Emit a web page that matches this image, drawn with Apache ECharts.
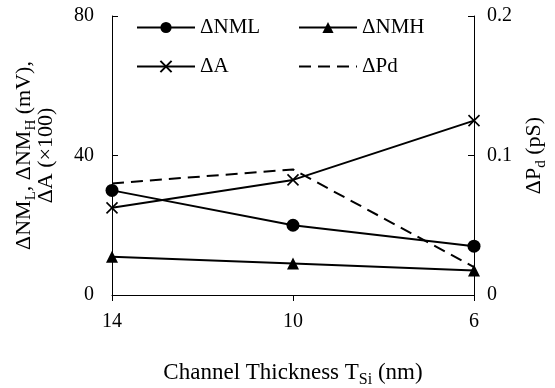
<!DOCTYPE html>
<html>
<head>
<meta charset="utf-8">
<script src="https://cdn.jsdelivr.net/npm/echarts@6/dist/echarts.min.js"></script>
<style>
html, body { margin: 0; padding: 0; background: #fff; }
#chart { width: 555px; height: 388px; }
</style>
</head>
<body>
<div id="chart"></div>
<script>
// channel thickness (nm)
var thickness = ['14', '10', '6'];
var dNML = [30, 20, 14];
var dNMH = [11, 9, 7];
var dA = [25, 33, 50];      // x100
var dPd = [0.08, 0.09, 0.02]; // pS, right axis

var font = '"Liberation Serif", "Times New Roman", serif';
var rich = {
    b: { fontFamily: font, fontSize: 22, color: '#000', lineHeight: 22, verticalAlign: 'bottom' },
    s: { fontFamily: font, fontSize: 15, color: '#000', lineHeight: 16, verticalAlign: 'bottom', padding: [0, 0, -4, 0] }
};
var richX = {
    b: { fontFamily: font, fontSize: 23, color: '#000', lineHeight: 26, verticalAlign: 'bottom' },
    s: { fontFamily: font, fontSize: 16, color: '#000', lineHeight: 18, verticalAlign: 'bottom', padding: [0, 0, -4, 0] }
};

var chart = echarts.init(document.getElementById('chart'));
var option = {
    animation: false,
    textStyle: { fontFamily: font, color: '#000' },
    grid: { left: 112, right: 81, top: 16, bottom: 93, outerBoundsMode: 'none', containLabel: false },
    legend: [
        {
            orient: 'vertical', left: 131, top: 12,
            itemWidth: 58, itemHeight: 14, itemGap: 18,
            textStyle: { fontFamily: font, fontSize: 21, color: '#000' },
            data: ['ΔNML', 'ΔA']
        },
        {
            orient: 'vertical', left: 293, top: 12,
            itemWidth: 58, itemHeight: 14, itemGap: 18,
            textStyle: { fontFamily: font, fontSize: 21, color: '#000' },
            data: ['ΔNMH', { name: 'ΔPd', itemStyle: { opacity: 0 } }]
        }
    ],
    xAxis: {
        type: 'category',
        data: thickness,
        boundaryGap: false,
        name: '{b|Channel Thickness T}{s|Si}{b| (nm)}',
        nameLocation: 'middle',
        nameGap: 63,
        nameTextStyle: { rich: richX },
        axisLine: { lineStyle: { color: '#000', width: 1 } },
        axisTick: { alignWithLabel: true, length: 6, lineStyle: { color: '#000' } },
        axisLabel: { fontFamily: font, fontSize: 20, color: '#000', margin: 17 }
    },
    yAxis: [
        {
            type: 'value',
            min: 0, max: 80, interval: 40,
            name: '{b|ΔNM}{s|L}{b|, ΔNM}{s|H}{b| (mV),}\n{b|ΔA (×100)}',
            nameLocation: 'middle',
            nameRotate: 90,
            nameGap: 55,
            nameTextStyle: { rich: rich, align: 'center' },
            axisLine: { show: true, lineStyle: { color: '#000', width: 1 } },
            axisTick: { show: true, inside: true, length: 6, lineStyle: { color: '#000' } },
            axisLabel: { fontFamily: font, fontSize: 20, color: '#000', margin: 18 },
            splitLine: { show: false }
        },
        {
            type: 'value',
            min: 0, max: 0.2, interval: 0.1,
            name: '{b|ΔP}{s|d}{b| (pS)}',
            nameLocation: 'middle',
            nameRotate: 90,
            nameGap: 40,
            nameTextStyle: { rich: rich },
            axisLine: { show: true, lineStyle: { color: '#000', width: 1 } },
            axisTick: { show: true, inside: true, length: 6, lineStyle: { color: '#000' } },
            axisLabel: { fontFamily: font, fontSize: 20, color: '#000', margin: 13 },
            splitLine: { show: false }
        }
    ],
    series: [
        {
            name: 'ΔNML', type: 'line', data: dNML,
            symbol: 'circle', symbolSize: 13,
            itemStyle: { color: '#000' },
            lineStyle: { color: '#000', width: 2 }
        },
        {
            name: 'ΔNMH', type: 'line', data: dNMH,
            symbol: 'triangle', symbolSize: 12,
            itemStyle: { color: '#000' },
            lineStyle: { color: '#000', width: 2 }
        },
        {
            name: 'ΔA', type: 'line', data: dA,
            symbol: 'path://M0,0L10,10M10,0L0,10', symbolSize: 11,
            itemStyle: { color: 'none', borderColor: '#000', borderWidth: 1.6 },
            lineStyle: { color: '#000', width: 2 }
        },
        {
            name: 'ΔPd', type: 'line', data: dPd, yAxisIndex: 1,
            symbol: 'none',
            itemStyle: { color: '#000' },
            lineStyle: { color: '#000', width: 2, type: [12, 7] }
        }
    ]
};
chart.setOption(option);
</script>
</body>
</html>
